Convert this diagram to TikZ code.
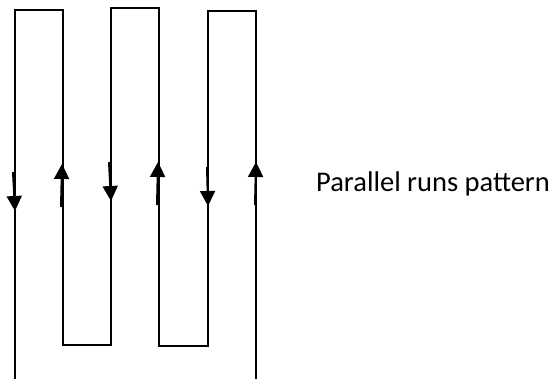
\documentclass[tikz,border=0pt]{standalone}
\usepackage{fontspec}
\setmainfont{Carlito}
\usetikzlibrary{arrows.meta}
\begin{document}
\begin{tikzpicture}[x=1pt,y=-1pt,
  run/.style={line width=2.2pt, line join=miter},
  flow/.style={line width=2pt, -{Triangle[width=15pt,length=15pt]}}]
\useasboundingbox (0,0) rectangle (560,379);
% serpentine run
\draw[run] (15,379) -- (15,10) -- (63,10) -- (63,345) -- (111,345) -- (111,8)
  -- (159,8) -- (159,346) -- (208,346) -- (208,11) -- (256,11) -- (256,379);
% direction markers
\draw[flow] (13,172) -- (15,211);
\draw[flow] (61,207) -- (62,164);
\draw[flow] (109,162) -- (111,201);
\draw[flow] (157,205) -- (158,162);
\draw[flow] (207,167) -- (208,206);
\draw[flow] (255,205) -- (256,162);
\node[anchor=base west, font=\fontsize{28.5}{34}\selectfont, inner sep=0pt] (lbl) at (316,192) {Parallel runs pattern};
\end{tikzpicture}
\end{document}
